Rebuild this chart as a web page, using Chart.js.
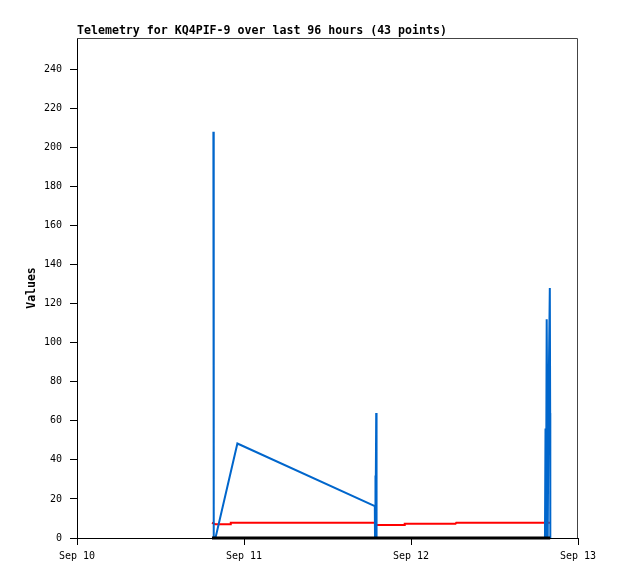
<!DOCTYPE html>
<html lang="en">
<head>
<meta charset="UTF-8">
<title>Telemetry KQ4PIF-9</title>
<script src="https://cdn.jsdelivr.net/npm/chart.js"></script>
<style>
    html, body { margin: 0; padding: 0; background: #fff; }
    #grafico { display: block; }
</style>
</head>
<body>
<canvas id="grafico" width="618" height="579"></canvas>
<script>
    // horas desde Sep 10 00:00
    const tituloGrafico = 'Telemetry for KQ4PIF-9 over last 96 hours (43 points)';
    const diasLabels = ['Sep 10', 'Sep 11', 'Sep 12', 'Sep 13'];
    const diasHoras = [0, 24, 48, 72];

    const azulHoras = [19.6, 19.65, 19.9, 23.05, 42.8, 42.83, 42.87, 42.92, 43.0, 43.05,
                       67.25, 67.33, 67.4, 67.5, 67.58, 67.65, 67.75, 67.95, 68.0, 68.02];
    const azulValores = [208, 0, 0, 48.4, 16.3, 0, 32, 0, 64, 0,
                         0, 56, 0, 112, 64, 0, 64, 128, 64, 0];

    const vermelhoHoras = [19.4, 19.9, 22.0, 22.1, 42.8, 42.85, 47.0, 47.1, 54.4, 54.5, 68.0];
    const vermelhoValores = [7.8, 7.0, 7.0, 7.8, 7.8, 6.6, 6.6, 7.3, 7.3, 7.8, 7.8];

    const pretoHoras = [19.4, 42.8, 68.0];
    const pretoValores = [0, 0, 0];

    function pontos(horas, valores) {
        return horas.map((h, i) => ({ x: h, y: valores[i] }));
    }

    const fonteMono = 'DejaVu Sans Mono';

    const moldura = {
        id: 'moldura',
        afterDraw(chart) {
            const { ctx, chartArea } = chart;
            ctx.save();
            ctx.strokeStyle = '#444';
            ctx.lineWidth = 1;
            ctx.beginPath();
            ctx.moveTo(chartArea.left, chartArea.top + 0.5);
            ctx.lineTo(chartArea.right - 0.5, chartArea.top + 0.5);
            ctx.lineTo(chartArea.right - 0.5, chartArea.bottom);
            ctx.stroke();

            ctx.fillStyle = '#000';
            ctx.font = 'bold 11.6px "' + fonteMono + '"';
            ctx.textAlign = 'left';
            ctx.textBaseline = 'alphabetic';
            ctx.fillText(tituloGrafico, chartArea.left, 34);
            ctx.restore();
        }
    };

    new Chart(document.getElementById('grafico'), {
        type: 'line',
        data: {
            datasets: [{
                data: pontos(pretoHoras, pretoValores),
                borderColor: '#000000',
                borderWidth: 3,
                order: 0
            }, {
                data: pontos(azulHoras, azulValores),
                borderColor: '#0066cc',
                borderWidth: 2,
                order: 1
            }, {
                data: pontos(vermelhoHoras, vermelhoValores),
                borderColor: '#ff0000',
                borderWidth: 2,
                order: 2
            }]
        },
        plugins: [moldura],
        options: {
            responsive: false,
            animation: false,
            events: [],
            layout: { padding: { top: 38, right: 40, bottom: 0, left: 0 } },
            elements: {
                point: { radius: 0 },
                line: { tension: 0, fill: false }
            },
            datasets: { line: { clip: false } },
            plugins: {
                legend: { display: false },
                tooltip: { enabled: false }
            },
            scales: {
                x: {
                    type: 'linear',
                    min: 0,
                    max: 72,
                    afterBuildTicks: scale => {
                        scale.ticks = diasHoras.map(v => ({ value: v }));
                    },
                    afterFit: scale => { scale.height = 41; },
                    ticks: {
                        color: '#000',
                        padding: 5,
                        maxRotation: 0,
                        font: { family: fonteMono, size: 10 },
                        callback: v => diasLabels[diasHoras.indexOf(v)]
                    },
                    grid: {
                        drawOnChartArea: false,
                        drawTicks: true,
                        tickLength: 7,
                        color: '#000'
                    },
                    border: { color: '#000', width: 1 }
                },
                y: {
                    min: 0,
                    max: 256,
                    afterBuildTicks: scale => {
                        scale.ticks = scale.ticks.filter(t => t.value % 20 === 0);
                    },
                    afterFit: scale => { scale.width = 77; },
                    ticks: {
                        stepSize: 20,
                        color: '#000',
                        padding: 8,
                        font: { family: fonteMono, size: 10 }
                    },
                    grid: {
                        drawOnChartArea: false,
                        drawTicks: true,
                        tickLength: 7,
                        color: '#000'
                    },
                    border: { color: '#000', width: 1 },
                    title: {
                        display: true,
                        text: 'Values',
                        color: '#000',
                        padding: { top: 25, bottom: 0 },
                        font: { family: fonteMono, size: 11.5, weight: 'bold' }
                    }
                }
            }
        }
    });
</script>
</body>
</html>
